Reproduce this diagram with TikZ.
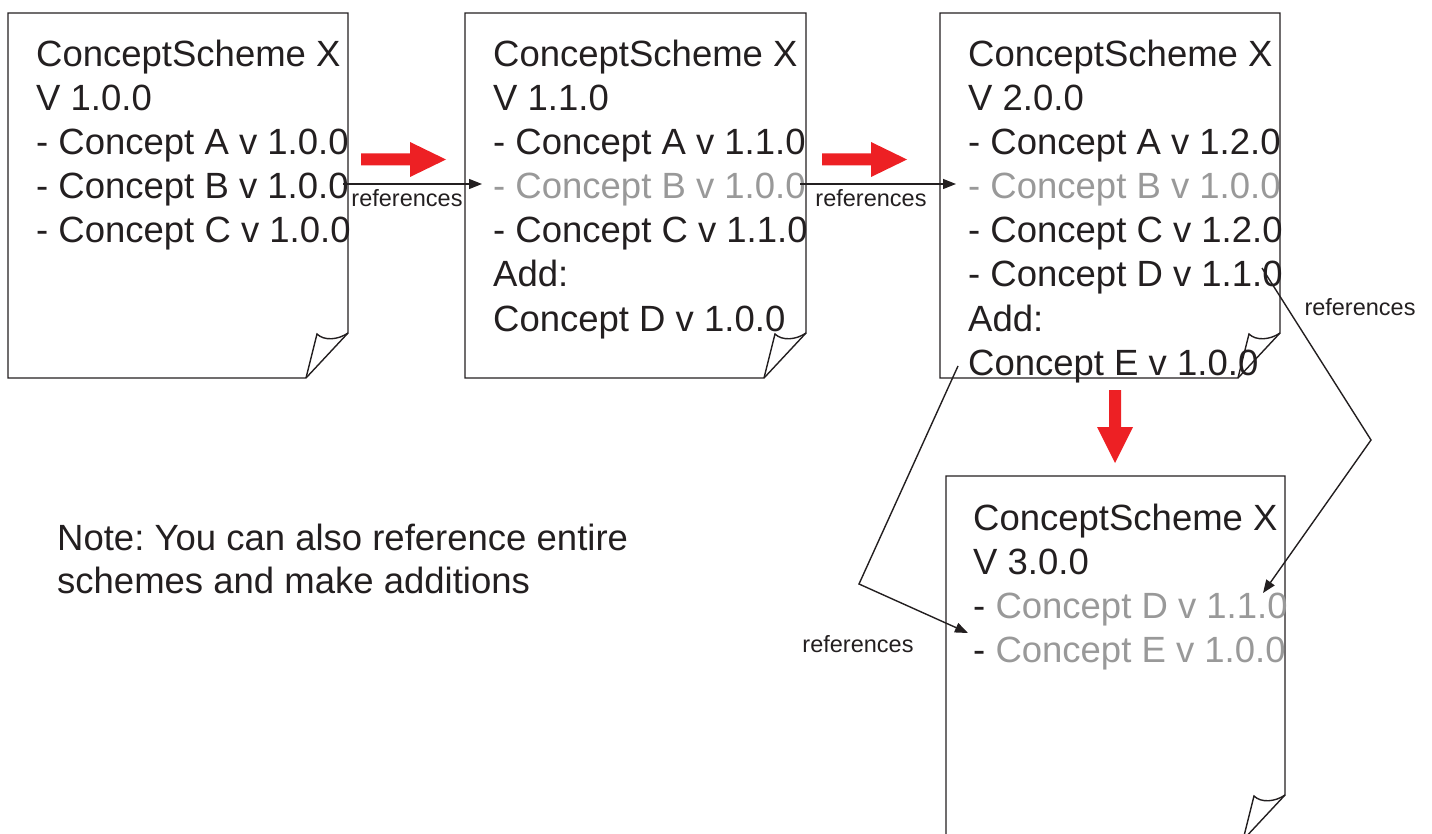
\documentclass[tikz,border=0pt]{standalone}
\usepackage{fontspec}
\setmainfont{Liberation Sans}
\usetikzlibrary{arrows.meta}
\frenchspacing

\definecolor{inkblack}{RGB}{35,31,32}
\definecolor{softgrey}{RGB}{153,153,153}
\definecolor{signalred}{RGB}{237,32,36}

\tikzset{
  pageline/.style={draw=inkblack, line width=1.4pt, line join=miter},
  linetext/.style={anchor=base west, inner sep=0pt, text=inkblack,
                   font=\fontsize{36.5}{44}\selectfont},
  reflabel/.style={anchor=base, inner sep=0pt, text=inkblack,
                   font=\fontsize{23.5}{28}\selectfont},
  refline/.style={draw=inkblack, line width=1.4pt,
                  -{Triangle[length=13pt,width=10pt]}},
  blockarrow/.style={fill=signalred, draw=none},
}

% sheet of paper with a curled lower right corner
% #1 name, #2 left, #3 top, #4 right, #5 bottom
\newcommand{\docpage}[5]{%
  \coordinate (#1-nw) at (#2,#3);
  \coordinate (#1-se) at (#4,#5);
  \draw[pageline] (#2,#3) -- (#4,#3) -- (#4,#5-45) -- (#4-42,#5)
                  -- (#2,#5) -- cycle;
  \draw[pageline] (#4-42,#5) -- (#4-31,#5-44)
                  .. controls (#4-24,#5-37) and (#4-10,#5-38) .. (#4,#5-45);
}

% stacked text lines of a sheet, 44 units apart
% #1 name, #2 x, #3 first baseline, #4 list of lines
\newcommand{\pagelines}[4]{%
  \foreach \linetxt [count=\k] in {#4}
    \node[linetext] (#1-\k) at (#2,#3+44*\k-44) {\linetxt};
}

% thick red arrow pointing right, #1 left end, #2 centre line
\newcommand{\rightblock}[2]{%
  \fill[blockarrow] (#1,#2-6) -- (#1+49,#2-6) -- (#1+49,#2-17.5)
      -- (#1+85,#2) -- (#1+49,#2+17.5) -- (#1+49,#2+6) -- (#1,#2+6) -- cycle;
}

\begin{document}
\begin{tikzpicture}[x=1pt, y=-1pt]
  \useasboundingbox (0,0) rectangle (1432,834);
  \clip (0,0) rectangle (1432,834);

  % sheets
  \docpage{p1}{8}{13}{348}{378}
  \docpage{p2}{465}{13}{806}{378}
  \docpage{p3}{940}{13}{1280}{378}
  \docpage{p4}{946}{476}{1285}{840}

  \pagelines{p1}{36}{67}{{ConceptScheme X},{V 1.0.0},
    {- Concept A v 1.0.0},{- Concept B v 1.0.0},{- Concept C v 1.0.0}}

  \pagelines{p2}{493}{67}{{ConceptScheme X},{V 1.1.0},
    {- Concept A v 1.1.0},{\color{softgrey}- Concept B v 1.0.0},
    {- Concept C v 1.1.0},{Add:},{Concept D v 1.0.0}}

  \pagelines{p3}{968}{67}{{ConceptScheme X},{V 2.0.0},
    {- Concept A v 1.2.0},{\color{softgrey}- Concept B v 1.0.0},
    {- Concept C v 1.2.0},{- Concept D v 1.1.0},{Add:},{Concept E v 1.0.0}}

  \pagelines{p4}{973}{530}{{ConceptScheme X},{V 3.0.0},
    {- \color{softgrey}Concept D v 1.1.0},
    {- \color{softgrey}Concept E v 1.0.0}}

  % version steps
  \rightblock{361}{159.5}
  \rightblock{822}{159.5}
  \fill[blockarrow] (1109,390) -- (1121,390) -- (1121,427) -- (1133,427)
      -- (1115,463) -- (1097,427) -- (1109,427) -- cycle;

  % reference links
  \coordinate (r1s) at (343,184);
  \coordinate (r1e) at (482,184);
  \coordinate (r2s) at (800,184);
  \coordinate (r2e) at (956,184);
  \coordinate (r3s) at (1262,268);
  \coordinate (r3k) at (1371,440);
  \coordinate (r3e) at (1263,593);
  \coordinate (r4s) at (958,366);
  \coordinate (r4k) at (859,584);
  \coordinate (r4e) at (968,633);

  \draw[refline] (r1s) -- (r1e);
  \draw[refline] (r2s) -- (r2e);
  \draw[refline] (r3s) -- (r3k) -- (r3e);
  \draw[refline] (r4s) -- (r4k) -- (r4e);

  \node[reflabel] (ref1) at (407,207) {references};
  \node[reflabel] (ref2) at (871,207) {references};
  \node[reflabel] (ref3) at (1360,316) {references};
  \node[reflabel] (ref4) at (858,652) {references};

  % remark
  \node[linetext] (note1) at (57,550) {Note: You can also reference entire};
  \node[linetext] (note2) at (57,593) {schemes and make additions};
\end{tikzpicture}
\end{document}
